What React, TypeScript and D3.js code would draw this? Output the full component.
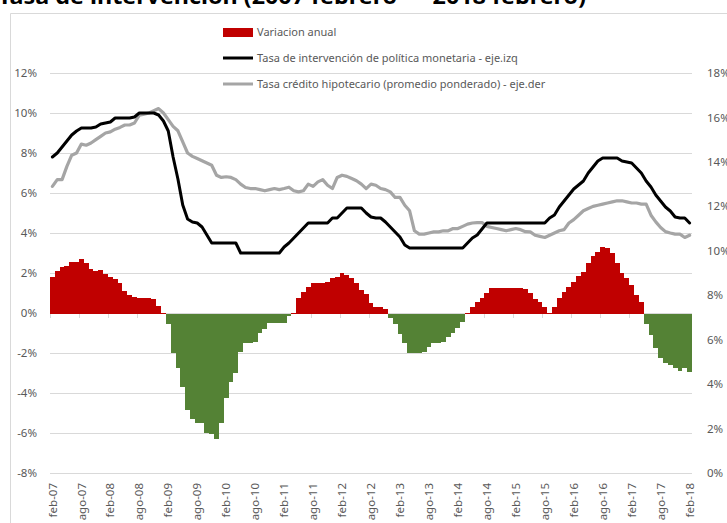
import React from "react";
import * as d3 from "d3";

// ---- data (monthly, feb-07 .. feb-18) ----
const tickLabels = [
  "feb-07","ago-07","feb-08","ago-08","feb-09","ago-09","feb-10","ago-10",
  "feb-11","ago-11","feb-12","ago-12","feb-13","ago-13","feb-14","ago-14",
  "feb-15","ago-15","feb-16","ago-16","feb-17","ago-17","feb-18",
];

const variacionAnual = [
  1.78, 2.1, 2.28, 2.35, 2.57, 2.57, 2.68, 2.48, 2.2, 2.1,
  2.15, 1.95, 1.78, 1.68, 1.52, 1.12, 0.9, 0.82, 0.73, 0.73,
  0.73, 0.68, 0.35, 0, -0.55, -1.98, -2.73, -3.72, -4.85, -5.3,
  -5.48, -5.5, -6.0, -6.05, -6.32, -5.48, -4.23, -3.43, -2.98, -1.93,
  -1.52, -1.48, -1.43, -0.98, -0.82, -0.48, -0.48, -0.48, -0.48, -0.15,
  0, 0.73, 1.07, 1.28, 1.52, 1.52, 1.52, 1.57, 1.77, 1.82,
  2.02, 1.9, 1.73, 1.52, 1.15, 0.95, 0.48, 0.28, 0.28, 0.18,
  -0.27, -0.55, -1.07, -1.52, -1.98, -1.98, -1.98, -1.93, -1.68, -1.52,
  -1.48, -1.43, -1.22, -0.98, -0.77, -0.43, 0, 0.28, 0.57, 0.73,
  0.98, 1.27, 1.27, 1.27, 1.27, 1.27, 1.27, 1.27, 1.18, 0.98,
  0.7, 0.53, 0.28, 0, 0.28, 0.73, 1.07, 1.28, 1.57, 1.85,
  2.03, 2.48, 2.85, 3.07, 3.28, 3.23, 3.02, 2.48, 2.02, 1.73,
  1.4, 0.9, 0.53, -0.55, -1.1, -1.77, -2.27, -2.52, -2.6, -2.77,
  -2.88, -2.77, -2.93,
];

const tasaIntervencion = [
  7.8, 8.0, 8.3, 8.6, 8.9, 9.1, 9.25, 9.25, 9.25, 9.3,
  9.45, 9.5, 9.55, 9.75, 9.75, 9.75, 9.75, 9.8, 10.0, 10.0,
  10.0, 10.0, 9.9, 9.6, 9.1, 7.8, 6.7, 5.4, 4.7, 4.55,
  4.5, 4.3, 3.9, 3.5, 3.5, 3.5, 3.5, 3.5, 3.5, 3.0,
  3.0, 3.0, 3.0, 3.0, 3.0, 3.0, 3.0, 3.0, 3.3, 3.5,
  3.75, 4.0, 4.25, 4.5, 4.5, 4.5, 4.5, 4.5, 4.75, 4.75,
  5.0, 5.25, 5.25, 5.25, 5.25, 5.0, 4.8, 4.75, 4.75, 4.55,
  4.3, 4.05, 3.8, 3.4, 3.25, 3.25, 3.25, 3.25, 3.25, 3.25,
  3.25, 3.25, 3.25, 3.25, 3.25, 3.25, 3.5, 3.75, 3.9, 4.2,
  4.5, 4.5, 4.5, 4.5, 4.5, 4.5, 4.5, 4.5, 4.5, 4.5,
  4.5, 4.5, 4.5, 4.75, 4.9, 5.3, 5.6, 5.9, 6.2, 6.4,
  6.6, 7.0, 7.3, 7.6, 7.75, 7.75, 7.75, 7.75, 7.6, 7.55,
  7.5, 7.25, 7.0, 6.6, 6.3, 5.9, 5.6, 5.3, 5.1, 4.8,
  4.75, 4.75, 4.5,
];

const tasaHipotecario = [
  12.9, 13.2, 13.2, 13.8, 14.3, 14.4, 14.8, 14.75, 14.85, 15.0,
  15.15, 15.3, 15.35, 15.47, 15.55, 15.66, 15.66, 15.75, 16.1, 16.15,
  16.2, 16.3, 16.4, 16.2, 15.9, 15.6, 15.4, 14.9, 14.4, 14.25,
  14.15, 14.05, 13.95, 13.85, 13.4, 13.3, 13.33, 13.3, 13.2, 13.0,
  12.85, 12.8, 12.8, 12.75, 12.7, 12.75, 12.8, 12.75, 12.8, 12.86,
  12.7, 12.65, 12.7, 13.0, 12.9, 13.1, 13.2, 12.95, 12.8, 13.3,
  13.4, 13.35, 13.25, 13.15, 13.0, 12.8, 13.0, 12.95, 12.8, 12.75,
  12.65, 12.4, 12.4, 12.05, 11.8, 10.9, 10.75, 10.75, 10.8, 10.85,
  10.85, 10.9, 10.9, 11.0, 11.0, 11.1, 11.2, 11.25, 11.27, 11.27,
  11.1, 11.05, 11.0, 10.95, 10.9, 10.95, 11.0, 10.95, 10.86, 10.85,
  10.7, 10.65, 10.6, 10.7, 10.8, 10.9, 10.95, 11.25, 11.4, 11.6,
  11.8, 11.9, 12.0, 12.05, 12.1, 12.15, 12.2, 12.25, 12.25, 12.2,
  12.15, 12.15, 12.1, 12.1, 11.6, 11.3, 11.05, 10.86, 10.8, 10.75,
  10.75, 10.6, 10.7,
];

const legendLabels = [
  "Variacion anual",
  "Tasa de intervención de política monetaria - eje.izq",
  "Tasa crédito hipotecario (promedio ponderado) - eje.der",
];

const titleText = "Tasa de intervención (2007 febrero — 2018 febrero)";

export default function App() {
  const W = 727, H = 523;
  const left = 50, right = 692, top = 73, bottom = 473;
  const font = "'Noto Sans', 'DejaVu Sans', sans-serif";
  const txt = "#595959";
  const grid = "#D9D9D9";

  const idx = d3.range(variacionAnual.length);
  const x = d3.scaleBand<number>().domain(idx).range([left, right]).padding(0);
  const yL = d3.scaleLinear().domain([-8, 12]).range([bottom, top]);
  const yR = d3.scaleLinear().domain([0, 18]).range([bottom, top]);
  const bw = x.bandwidth();
  const cx = (i: number) => (x(i) as number) + bw / 2;
  const edge = (i: number) => Math.round(i < idx.length ? (x(i) as number) : right);

  const lineL = d3.line<number>().x((_, i) => cx(i)).y((d) => yL(d));
  const lineR = d3.line<number>().x((_, i) => cx(i)).y((d) => yR(d));

  const leftTicks = yL.ticks(10);
  const rightTicks = yR.ticks(9);
  const tickIdx = tickLabels.map((_, k) => k * 6);
  const y0 = Math.round(yL(0));

  return (
    <svg width={W} height={H} style={{ position: "absolute", left: 0, top: 0, background: "#fff" }}
      fontFamily={font}>
      <rect x={0} y={0} width={W} height={H} fill="#fff" />
      <text x={-2} y={4} fontSize={22} fontWeight="bold" fill="#000" textLength={588}
        lengthAdjust="spacingAndGlyphs">{titleText}</text>
      <path d={`M10.5,${H} V13.5 H${W}`} fill="none" stroke={grid} strokeWidth={1} />

      {/* gridlines */}
      {leftTicks.map((t) => (
        <line key={"g" + t} x1={left} x2={right} y1={Math.round(yL(t)) + 0.5} y2={Math.round(yL(t)) + 0.5}
          stroke={grid} strokeWidth={1} />
      ))}
      {/* category ticks */}
      {tickIdx.map((i) => (
        <line key={"t" + i} x1={edge(i) + 0.5} x2={edge(i) + 0.5}
          y1={y0} y2={y0 + 5} stroke={grid} strokeWidth={1} />
      ))}

      {/* bars */}
      <g shapeRendering="crispEdges">
        {variacionAnual.map((v, i) => {
          const yv = Math.round(yL(v));
          return (
            <rect key={"b" + i} x={edge(i)} width={edge(i + 1) - edge(i)}
              y={v >= 0 ? yv : y0 + 1} height={Math.max(0, v >= 0 ? y0 + 1 - yv : yv - y0 - 1)}
              fill={v >= 0 ? "#C00000" : "#548235"} />
          );
        })}
      </g>

      {/* lines */}
      <path d={lineR(tasaHipotecario) || ""} fill="none" stroke="#A5A5A5" strokeWidth={3.2}
        strokeLinejoin="round" strokeLinecap="round" />
      <path d={lineL(tasaIntervencion) || ""} fill="none" stroke="#000" strokeWidth={3}
        strokeLinejoin="round" strokeLinecap="round" />

      {/* left axis labels */}
      {leftTicks.map((t) => (
        <text key={"l" + t} x={37} y={yL(t)} dy="0.36em" textAnchor="end" fontSize={11.5} fill={txt}>
          {`${t}%`}
        </text>
      ))}
      {/* right axis labels */}
      {rightTicks.map((t) => (
        <text key={"r" + t} x={707} y={yR(t)} dy="0.36em" textAnchor="start" fontSize={11.5} fill={txt}>
          {`${t}%`}
        </text>
      ))}
      {/* x labels */}
      {tickIdx.map((i, k) => (
        <text key={"x" + i} transform={`translate(${cx(i)},483) rotate(-90)`} textAnchor="end"
          dy="0.36em" fontSize={11.5} fill={txt}>
          {tickLabels[k]}
        </text>
      ))}

      {/* legend */}
      <rect x={223} y={28} width={30} height={9} fill="#C00000" />
      <text x={257} y={32} dy="0.36em" fontSize={11} fill={txt}>{legendLabels[0]}</text>
      <line x1={223} x2={253} y1={58} y2={58} stroke="#000" strokeWidth={3} />
      <text x={257} y={58} dy="0.36em" fontSize={11} fill={txt}>{legendLabels[1]}</text>
      <line x1={223} x2={253} y1={84} y2={84} stroke="#A5A5A5" strokeWidth={3} />
      <text x={257} y={84} dy="0.36em" fontSize={11} fill={txt}>{legendLabels[2]}</text>
    </svg>
  );
}
